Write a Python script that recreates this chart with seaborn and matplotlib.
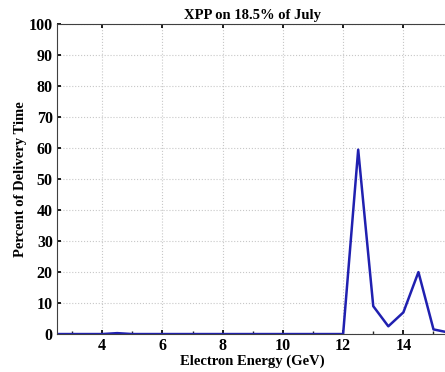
import numpy as np
import pandas as pd
import matplotlib
matplotlib.use("Agg")
import matplotlib.pyplot as plt
import seaborn as sns

# energies in GeV (0.5 steps) and share of delivery time in %
energy = [2.5, 3.0, 3.5, 4.0, 4.5, 5.0, 5.5, 6.0, 6.5, 7.0, 7.5, 8.0, 8.5,
          9.0, 9.5, 10.0, 10.5, 11.0, 11.5, 12.0, 12.5, 13.0, 13.5, 14.0,
          14.5, 15.0, 15.5]
percent = [0, 0, 0, 0, 0.3, 0, 0, 0, 0, 0, 0, 0, 0,
           0, 0, 0, 0, 0, 0, 0, 59.5, 9, 2.5, 7,
           20, 1.5, 0.5]

df = pd.DataFrame({"energy": energy, "percent": percent})

sns.set_theme(style="whitegrid")
plt.rcParams["font.family"] = ["Liberation Serif", "DejaVu Serif"]
plt.rcParams["font.weight"] = "bold"
plt.rcParams["text.color"] = "black"
plt.rcParams["axes.labelcolor"] = "black"

fig = plt.figure(figsize=(4.45, 3.72), dpi=100)
ax = fig.add_axes([0.128, 0.102, 0.88, 0.833])

sns.lineplot(data=df, x="energy", y="percent", color="#2020b0", linewidth=1.8, ax=ax)

ax.set_xlim(2.5, 15.5)
ax.set_ylim(0, 100)
ax.set_xticks([4, 6, 8, 10, 12, 14])
ax.set_yticks(range(0, 101, 10))
ax.set_xticks(np.arange(3, 16, 1), minor=True)
ax.grid(True, which="major", color="#c8c8c8", linestyle=":", linewidth=0.8)
ax.grid(False, which="minor")
ax.tick_params(axis="both", which="major", labelsize=11.5, length=3, direction="in",
               colors="black", pad=3)
ax.tick_params(axis="x", which="minor", length=2, direction="in", bottom=True)
ax.tick_params(axis="x", which="major", bottom=True, top=True)
ax.tick_params(axis="y", which="major", left=True, right=False)
for lab in ax.get_xticklabels() + ax.get_yticklabels():
    lab.set_fontweight("bold")
for s in ax.spines.values():
    s.set_color("#404040")
    s.set_linewidth(0.8)

ax.set_title("XPP on 18.5% of July", fontsize=10.5, fontweight="bold", pad=4, color="black")
ax.set_xlabel("Electron Energy (GeV)", fontsize=10.5, fontweight="bold", labelpad=0)
ax.set_ylabel("Percent of Delivery Time", fontsize=10.5, fontweight="bold", labelpad=1)

fig.savefig("out.png", dpi=100)
